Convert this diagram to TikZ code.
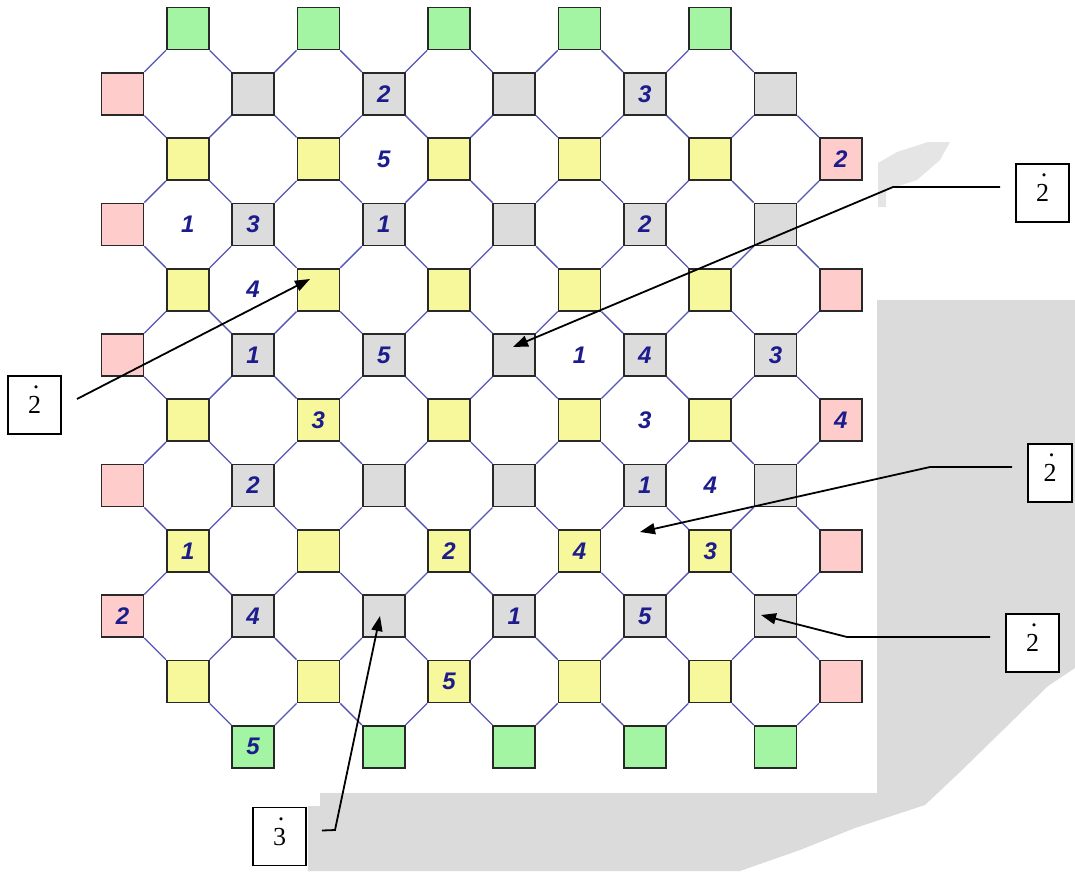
\documentclass[tikz,border=0pt]{standalone}
\usepackage{fontspec}
\setmainfont{Liberation Serif}
\newfontfamily\numfont{Liberation Sans}
\usetikzlibrary{arrows.meta,calc}
\definecolor{sqgreen}{RGB}{163,245,163}
\definecolor{sqpink}{RGB}{255,204,204}
\definecolor{sqgray}{RGB}{220,220,220}
\definecolor{sqyellow}{RGB}{247,247,155}
\definecolor{sqedge}{RGB}{40,40,40}
\definecolor{octline}{RGB}{85,85,180}
\definecolor{numblue}{RGB}{28,28,140}
\definecolor{bgshade}{RGB}{219,219,219}
\definecolor{bgshadelight}{RGB}{229,229,229}
\newcommand\dotnum[1]{\ooalign{#1\cr\hidewidth\raisebox{0.95em}{\kern0.12em.}\hidewidth\cr}}
\begin{document}
\begin{tikzpicture}[x=1pt,y=-1pt,
  sq/.style={rectangle,draw=sqedge,line width=1.7pt,minimum size=42pt,inner sep=0pt},
  gsq/.style={sq,fill=sqgreen},
  psq/.style={sq,fill=sqpink},
  hsq/.style={sq,fill=sqgray},
  ysq/.style={sq,fill=sqyellow},
  numtxt/.style={inner sep=0pt,text=numblue,font=\numfont\bfseries\itshape\fontsize{24}{24}\selectfont},
  oct/.style={draw=octline,line width=1.3pt},
  callbox/.style={rectangle,draw=black,line width=1.9pt,fill=white,minimum width=53pt,minimum height=58pt,inner sep=0pt,font=\fontsize{26}{26}\selectfont},
  callline/.style={draw=black,line width=1.8pt,-{Triangle[length=15pt,width=11pt]}}
]
\useasboundingbox (0,0) rectangle (1075,871);
% background shading
\fill[bgshade] (877,300) -- (1075,300) -- (1075,668) -- (1048,686) -- (960,772) -- (925,805) -- (855,828) -- (800,850) -- (740,871) -- (308,871) -- (308,806) -- (320,806) -- (320,793) -- (877,793) -- cycle;
\fill[bgshadelight] (878,207) -- (878,163) -- (897,152) -- (928,142) -- (950,142) -- (940,160) -- (917,180) -- (886,190) -- (886,207) -- cycle;
% squares
\foreach \c in {1,3,...,9} \node[gsq] (s-\c-0) at ({122.5+65.3*\c},28.5) {};
\foreach \c in {2,4,...,10} \node[gsq] (s-\c-11) at ({122.5+65.3*\c},{28.5+65.3*11}) {};
\foreach \r in {1,3,...,9} {
  \node[psq] (s-0-\r) at (122.5,{28.5+65.3*\r}) {};
  \foreach \c in {2,4,...,10} \node[hsq] (s-\c-\r) at ({122.5+65.3*\c},{28.5+65.3*\r}) {};
}
\foreach \r in {2,4,...,10} {
  \node[psq] (s-11-\r) at ({122.5+65.3*11},{28.5+65.3*\r}) {};
  \foreach \c in {1,3,...,9} \node[ysq] (s-\c-\r) at ({122.5+65.3*\c},{28.5+65.3*\r}) {};
}
% octagon edges
\foreach \r in {0,2,...,10} \foreach \c in {1,3,...,9} {
  \pgfmathtruncatemacro\cn{\c+1}\pgfmathtruncatemacro\rn{\r+1}
  \draw[oct] (s-\c-\r.south east) -- (s-\cn-\rn.north west);
}
\foreach \r in {1,3,...,9} \foreach \c in {0,2,...,10} {
  \pgfmathtruncatemacro\cn{\c+1}\pgfmathtruncatemacro\rn{\r+1}
  \draw[oct] (s-\c-\r.south east) -- (s-\cn-\rn.north west);
}
\foreach \r in {2,4,...,10} \foreach \c in {1,3,...,9} {
  \pgfmathtruncatemacro\cn{\c+1}\pgfmathtruncatemacro\rp{\r-1}
  \draw[oct] (s-\c-\r.north east) -- (s-\cn-\rp.south west);
}
\foreach \c in {0,2,...,8} {
  \pgfmathtruncatemacro\cn{\c+1}
  \draw[oct] (s-\c-1.north east) -- (s-\cn-0.south west);
}
\foreach \r in {3,5,...,11} \foreach \c in {0,2,...,10} {
  \pgfmathtruncatemacro\cn{\c+1}\pgfmathtruncatemacro\rp{\r-1}
  \ifnum\r=11 \ifnum\c=0 \else \draw[oct] (s-\c-\r.north east) -- (s-\cn-\rp.south west);\fi
  \else \draw[oct] (s-\c-\r.north east) -- (s-\cn-\rp.south west);\fi
}
% numbers in squares
\foreach \c/\r/\d in {4/1/2, 8/1/3, 11/2/2, 2/3/3, 4/3/1, 8/3/2, 2/5/1, 4/5/5, 8/5/4, 10/5/3,
  3/6/3, 11/6/4, 2/7/2, 8/7/1, 1/8/1, 5/8/2, 7/8/4, 9/8/3, 0/9/2, 2/9/4, 6/9/1, 8/9/5, 5/10/5, 2/11/5}
  \node[numtxt] (n-\c-\r) at (s-\c-\r) {\d};
% numbers in octagons
\foreach \c/\r/\d in {4/2/5, 1/3/1, 2/4/4, 7/5/1, 8/6/3, 9/7/4}
  \node[numtxt] (o-\c-\r) at ({122.5+65.3*\c},{28.5+65.3*\r}) {\d};
% callouts
\node[callbox] (bA) at (1042.5,193) {\dotnum{2}};
\node[callbox] (bB) at (34.5,405) {\dotnum{2}};
\node[callbox,minimum width=44pt] (bC) at (1050,473) {\dotnum{2}};
\node[callbox] (bD) at (1032.5,643) {\dotnum{2}};
\node[callbox] (bE) at (279.5,836.5) {\dotnum{3}};
\coordinate (kA) at (893,187); \coordinate (tA) at (513,347);
\coordinate (tB) at (310,279);
\coordinate (kC) at (930,467); \coordinate (tC) at (640,532);
\coordinate (kD) at (847,637); \coordinate (tD) at (761,615);
\coordinate (kE) at (335,830); \coordinate (tE) at (380,616);
\draw[callline] ([shift={(-15,-6)}]bA.west) -- (kA) -- (tA);
\draw[callline] ([shift={(15,-6)}]bB.east) -- (tB);
\draw[callline] ([shift={(-15,-6)}]bC.west) -- (kC) -- (tC);
\draw[callline] ([shift={(-15,-6)}]bD.west) -- (kD) -- (tD);
\draw[callline] ([shift={(15,-6)}]bE.east) -- (kE) -- (tE);
\end{tikzpicture}
\end{document}
